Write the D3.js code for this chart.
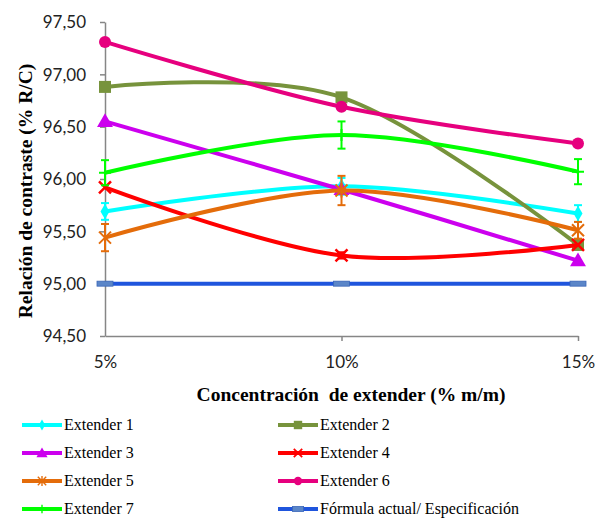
<!DOCTYPE html>
<html>
<head>
<meta charset="utf-8">
<script src="https://cdn.jsdelivr.net/npm/d3@7"></script>
<style>
  body { margin: 0; background: #fff; }
  svg { display: block; }
  .serif { font-family: "Liberation Serif", "Times New Roman", serif; }
</style>
</head>
<body>
<script>
// categories on the x axis
var concentraciones = ["5%", "10%", "15%"]
var yTicks = [94.5, 95.0, 95.5, 96.0, 96.5, 97.0, 97.5]

// series values
var extender1 = [95.69, 95.93, 95.67]
var extender2 = [96.88, 96.78, 95.37]
var extender3 = [96.55, 95.90, 95.22]
var extender4 = [95.92, 95.27, 95.37]
var extender5 = [95.44, 95.89, 95.51]
var extender6 = [97.31, 96.69, 96.34]
var extender7 = [96.06, 96.42, 96.07]
var formula = [95.00, 95.00, 95.00]

// error bars (+/-)
var err1 = [0.08, 0.08, 0.08]
var err5 = [0.13, 0.14, 0.08]
var err7 = [0.12, 0.13, 0.12]
var err4 = [0, 0.03, 0]

var names = ["Extender 1", "Extender 2", "Extender 3", "Extender 4", "Extender 5", "Extender 6", "Extender 7", "Fórmula actual/ Especificación"]

window.onload = draw

function draw()
{
  var width = 598, height = 518
  var svg = d3.select("body").append("svg").attr("width", width).attr("height", height)

  var x = d3.scalePoint().domain(concentraciones).range([105, 578])
  var y = d3.scaleLinear().domain([94.5, 97.5]).range([336, 22])

  var series = [
    {name: names[0], values: extender1, color: "#00FFFF", marker: "diamond", err: err1},
    {name: names[1], values: extender2, color: "#77933C", marker: "square"},
    {name: names[2], values: extender3, color: "#CC00EE", marker: "triangle"},
    {name: names[3], values: extender4, color: "#FF0000", marker: "x", err: err4},
    {name: names[4], values: extender5, color: "#E46C0A", marker: "star", err: err5},
    {name: names[5], values: extender6, color: "#E6007E", marker: "circle"},
    {name: names[6], values: extender7, color: "#00FF00", marker: "plus", err: err7},
    {name: names[7], values: formula, color: "#1F55DD", marker: "dash"}
  ]

  // axes
  var yAxis = d3.axisLeft(y).tickValues(yTicks).tickSize(5).tickSizeOuter(0)
    .tickFormat(function(d) { return d3.format(".2f")(d).replace(".", ",") })
  var gy = svg.append("g").attr("transform", "translate(105,0)").call(yAxis)
  gy.select(".domain").attr("stroke", "#868686").attr("stroke-width", 1.5)
  gy.selectAll(".tick line").attr("stroke", "#868686").attr("stroke-width", 1.5)
  gy.selectAll(".tick text").attr("x", -19).attr("dy", "0.35em")
    .style("font-family", "Lato, 'Open Sans', sans-serif").style("font-size", "17px").attr("fill", "#222")

  var xAxis = d3.axisBottom(x).tickSize(5).tickSizeOuter(0)
  var gx = svg.append("g").attr("transform", "translate(0,336)").call(xAxis)
  gx.select(".domain").attr("stroke", "#868686").attr("stroke-width", 1.5)
  gx.selectAll(".tick line").attr("stroke", "#868686").attr("stroke-width", 1.5)
  gx.selectAll(".tick line").filter(function(d) { return d === "5%" }).remove()
  gx.selectAll(".tick text").attr("y", 20).attr("dy", "0.71em")
    .style("font-family", "Lato, 'Open Sans', sans-serif").style("font-size", "17px").attr("fill", "#222")

  // titles
  svg.append("text")
     .attr("class", "serif")
     .attr("transform", "translate(32,191) rotate(-90)")
     .attr("text-anchor", "middle")
     .style("font-size", "19.5px").style("font-weight", "bold")
     .text("Relación de contraste (% R/C)")

  svg.append("text")
     .attr("class", "serif")
     .attr("x", 351).attr("y", 401)
     .attr("text-anchor", "middle")
     .style("white-space", "pre")
     .style("font-size", "19.5px").style("font-weight", "bold")
     .text("Concentración  de extender (% m/m)")

  var line = d3.line()
    .x(function(d, i) { return x(concentraciones[i]) })
    .y(function(d) { return y(d) })
    .curve(d3.curveCardinal.tension(0))

  // draw the formula line first, then extenders in order
  var order = [7, 0, 1, 2, 3, 4, 5, 6]
  order.forEach(function(k)
  {
    var s = series[k]
    var g = svg.append("g")
    g.append("path").attr("d", line(s.values)).attr("fill", "none")
     .attr("stroke", s.color).attr("stroke-width", 4)

    if (s.err)
    {
      s.values.forEach(function(v, i)
      {
        if (!s.err[i]) return
        var cx = x(concentraciones[i])
        var y0 = y(v + s.err[i]), y1 = y(v - s.err[i])
        g.append("line").attr("x1", cx).attr("x2", cx).attr("y1", y0).attr("y2", y1)
         .attr("stroke", s.color).attr("stroke-width", 2)
        ;[y0, y1].forEach(function(yy)
        {
          g.append("line").attr("x1", cx - 4).attr("x2", cx + 4).attr("y1", yy).attr("y2", yy)
           .attr("stroke", s.color).attr("stroke-width", 2)
        })
      })
    }

    s.values.forEach(function(v, i)
    {
      marker(g, s.marker, x(concentraciones[i]), y(v), s.color, 1)
    })
  })

  // legend
  var cols = [22, 278]
  var rows = [425, 453, 481, 509]
  series.forEach(function(s, i)
  {
    var lx = cols[i % 2], ly = rows[Math.floor(i / 2)]
    var g = svg.append("g")
    g.append("line").attr("x1", lx).attr("x2", lx + 40).attr("y1", ly).attr("y2", ly)
     .attr("stroke", s.color).attr("stroke-width", 4)
    marker(g, s.marker, lx + 20, ly, s.color, 0.7)
    g.append("text").attr("class", "serif").attr("x", lx + 42).attr("y", ly + 5)
     .style("font-size", "16px")
     .text(s.name)
  })
}

// draw a marker symbol
function marker(g, kind, cx, cy, color, scale)
{
  var s = scale
  if (kind === "circle")
  {
    g.append("circle").attr("cx", cx).attr("cy", cy).attr("r", 6 * s).attr("fill", color)
  }
  else if (kind === "square")
  {
    g.append("rect").attr("x", cx - 6 * s).attr("y", cy - 6 * s).attr("width", 12 * s).attr("height", 12 * s).attr("fill", color)
  }
  else if (kind === "triangle")
  {
    g.append("path").attr("d", d3.symbol(d3.symbolTriangle, 110 * s * s)()).attr("transform", "translate(" + cx + "," + (cy + 1) + ")").attr("fill", color)
  }
  else if (kind === "diamond")
  {
    g.append("path").attr("d", d3.symbol(d3.symbolDiamond, 70 * s * s)()).attr("transform", "translate(" + cx + "," + cy + ")").attr("fill", color)
  }
  else if (kind === "x")
  {
    g.append("path").attr("d", "M-6,-6L6,6M-6,6L6,-6").attr("transform", "translate(" + cx + "," + cy + ") scale(" + s + ")")
     .attr("stroke", color).attr("stroke-width", 2.5)
  }
  else if (kind === "star")
  {
    g.append("path").attr("d", "M-6,-6L6,6M-6,6L6,-6M0,-7L0,7").attr("transform", "translate(" + cx + "," + cy + ") scale(" + s + ")")
     .attr("stroke", color).attr("stroke-width", 2)
  }
  else if (kind === "plus")
  {
    g.append("path").attr("d", "M-6,0L6,0M0,-6L0,6").attr("transform", "translate(" + cx + "," + cy + ") scale(" + s + ")")
     .attr("stroke", color).attr("stroke-width", 2)
  }
  else if (kind === "dash")
  {
    g.append("rect").attr("x", cx - 8 * s).attr("y", cy - 2.5).attr("width", 16 * s).attr("height", 5)
     .attr("fill", "#5B86C8").attr("stroke", "#3A66B8").attr("stroke-width", 0.8)
  }
}
</script>
</body>
</html>
